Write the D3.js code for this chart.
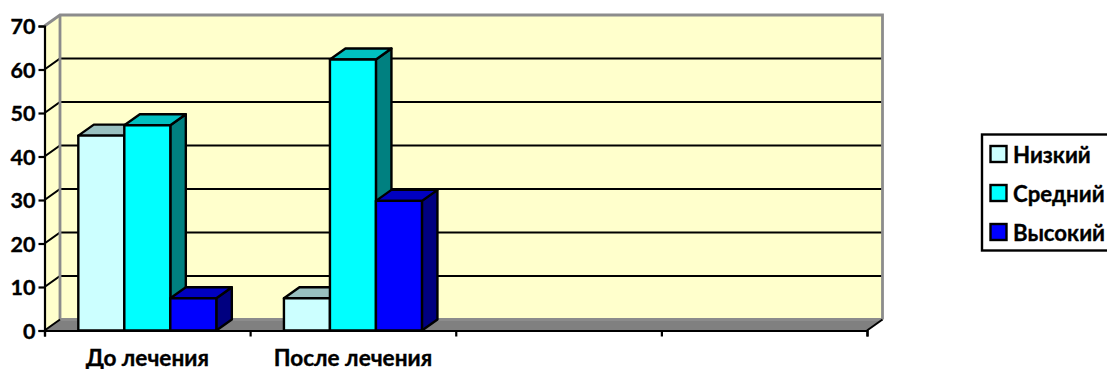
<!DOCTYPE html>
<html>
<head>
<meta charset="utf-8">
<script src="https://cdn.jsdelivr.net/npm/d3@7/dist/d3.min.js"></script>
<style>
html,body{margin:0;padding:0;background:#fff;overflow:hidden}
svg{display:block}
text{font-family:Lato,"Noto Sans",sans-serif;font-weight:700;fill:#000;stroke:#000;stroke-width:.35px}
</style>
</head>
<body>
<svg id="chart" width="1107" height="369"></svg>
<script>
// Chart data
const categories = ["До лечения", "После лечения", "", ""];
const seriesNames = ["Низкий", "Средний", "Высокий"];
const lowValues = [44.8, 7.4];
const midValues = [47.2, 62.3];
const highValues = [7.4, 29.8];
const yTicks = [0, 10, 20, 30, 40, 50, 60, 70];

// Face colours per series: front, top, side
const faces = [
  {front: "#CCFFFF", top: "#99C0C0", side: "#99C0C0"},
  {front: "#00FFFF", top: "#00C0C0", side: "#008080"},
  {front: "#0000FF", top: "#0000C0", side: "#000080"}
];

const svg = d3.select("#chart");
const depthX = 15.5, depthY = -11;
const plotL = 44.5, plotR = 867, plotB = 330.5, plotT = 26;

const y = d3.scaleLinear().domain([0, 70]).range([plotB, plotT]);
const slots = d3.range(categories.length);
const x0 = d3.scaleBand().domain(slots).range([plotL, plotR]);
const x1 = d3.scaleBand().domain(d3.range(seriesNames.length))
  .range([0, x0.bandwidth()]).paddingInner(0).paddingOuter(0.735);
const xEdge = d3.scaleLinear().domain([0, slots.length]).range([plotL, plotR]);

const poly = pts => pts.map(p => p.join(",")).join(" ");

// Walls and floor
svg.append("polygon").attr("fill", "#FFFFCC")
  .attr("points", poly([[plotL + depthX, plotT + depthY], [plotR + depthX, plotT + depthY], [plotR + depthX, plotB + depthY], [plotL + depthX, plotB + depthY]]));
svg.append("polygon").attr("fill", "#FFFFCC")
  .attr("points", poly([[plotL, plotT], [plotL + depthX, plotT + depthY], [plotL + depthX, plotB + depthY], [plotL, plotB]]));
svg.append("polygon").attr("fill", "#808080")
  .attr("points", poly([[plotL, plotB], [plotL + depthX, plotB + depthY], [plotR + depthX, plotB + depthY], [plotR, plotB]]));

// Gridlines run along the side wall and across the back wall
const grid = svg.append("g").attr("fill", "none").attr("stroke-width", 2.1);
yTicks.filter(t => t > 0 && t < 70).forEach(t => {
  grid.append("polyline").attr("stroke", "#000")
    .attr("points", poly([[plotL, y(t)], [plotL + depthX, y(t) + depthY], [plotR + depthX, y(t) + depthY]]));
});

// Wall outlines
const edge = svg.append("g").attr("fill", "none").attr("stroke", "#8C8C8C").attr("stroke-width", 2.8);
edge.append("polyline")
  .attr("points", poly([[plotL, plotT], [plotL + depthX, plotT + depthY], [plotR + depthX, plotT + depthY], [plotR + depthX, plotB + depthY]]));
edge.append("line")
  .attr("x1", plotL + depthX).attr("x2", plotL + depthX).attr("y1", plotT + depthY).attr("y2", plotB + depthY);
edge.append("line")
  .attr("x1", plotL + depthX).attr("x2", plotR + depthX).attr("y1", plotB + depthY).attr("y2", plotB + depthY);
svg.append("polyline").attr("fill", "none").attr("stroke", "#000").attr("stroke-width", 2)
  .attr("points", poly([[plotL, plotB], [plotL + depthX, plotB + depthY]]));
svg.append("polyline").attr("fill", "none").attr("stroke", "#000").attr("stroke-width", 2)
  .attr("points", poly([[plotR, plotB], [plotR + depthX, plotB + depthY]]));

// Three-dimensional columns
const valueSets = [lowValues, midValues, highValues];
const bars = svg.append("g").attr("stroke", "#000").attr("stroke-width", 2.4).attr("stroke-linejoin", "round");
categories.forEach((c, ci) => {
  valueSets.forEach((vals, si) => {
    if (vals[ci] === undefined) return;
    const xa = x0(ci) + x1(si), xb = xa + x1.bandwidth();
    const yt = y(vals[ci]), yb = y(0);
    const f = faces[si];
    bars.append("polygon").attr("fill", f.side)
      .attr("points", poly([[xb, yt], [xb + depthX, yt + depthY], [xb + depthX, yb + depthY], [xb, yb]]));
    bars.append("polygon").attr("fill", f.top)
      .attr("points", poly([[xa, yt], [xa + depthX, yt + depthY], [xb + depthX, yt + depthY], [xb, yt]]));
    bars.append("rect").attr("fill", f.front)
      .attr("x", xa).attr("y", yt).attr("width", xb - xa).attr("height", yb - yt);
  });
});

// Value axis
const yAxis = d3.axisLeft(y).tickValues(yTicks).tickSize(6).tickPadding(3);
const yG = svg.append("g").attr("transform", `translate(${plotL},0)`).call(yAxis);
yG.selectAll("text").style("font-size", "21.5px").attr("dy", "0.36em");
yG.selectAll("path,line").attr("stroke", "#000").attr("stroke-width", 2.2);

// Category axis: ticks on slot boundaries, labels centred in each slot
const xAxis = d3.axisBottom(xEdge).tickValues(d3.range(slots.length + 1)).tickSize(6).tickFormat("");
const xG = svg.append("g").attr("transform", `translate(0,${plotB})`).call(xAxis);
xG.selectAll("path,line").attr("stroke", "#000").attr("stroke-width", 2.2);
svg.append("g").selectAll("text").data(categories.filter(c => c)).join("text")
  .attr("x", (d, i) => x0(i) + x0.bandwidth() / 2)
  .attr("y", 365.5)
  .attr("text-anchor", "middle")
  .style("font-size", "22.6px")
  .text(d => d);

// Legend
const legend = svg.append("g");
legend.append("rect").attr("x", 982).attr("y", 134.5).attr("width", 140).attr("height", 116)
  .attr("fill", "#fff").attr("stroke", "#000").attr("stroke-width", 2.4);
const rowY = d3.scalePoint().domain(seriesNames).range([163, 241]);
const rows = legend.selectAll("g.row").data(seriesNames).join("g").attr("class", "row");
rows.append("rect").attr("x", 990.5).attr("y", d => rowY(d) - 17).attr("width", 16).attr("height", 16)
  .attr("fill", (d, i) => faces[i].front).attr("stroke", "#000").attr("stroke-width", 2.4);
rows.append("text").attr("x", 1013).attr("y", d => rowY(d))
  .style("font-size", "22.2px").text(d => d);
</script>
</body>
</html>
